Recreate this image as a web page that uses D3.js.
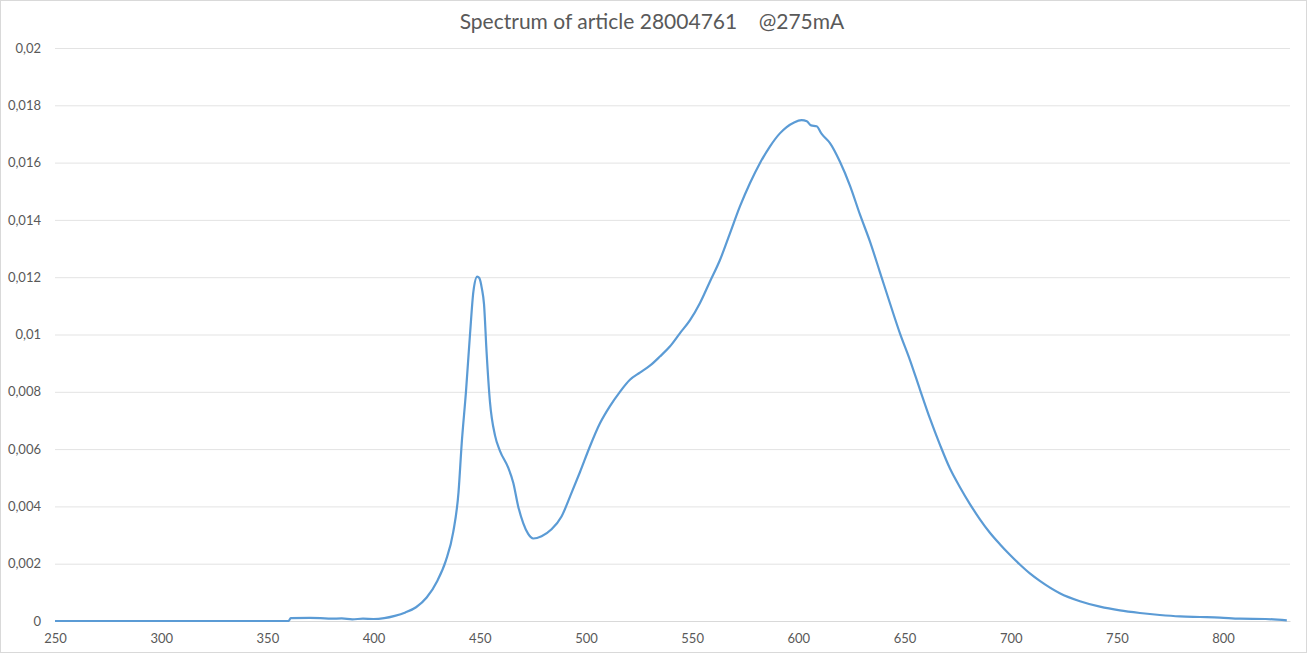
<!DOCTYPE html>
<html>
<head>
<meta charset="utf-8">
<script src="https://cdn.jsdelivr.net/npm/d3@7"></script>
<style>
  body { margin: 0; background: #fff; }
  text { font-family: Lato, "Open Sans", sans-serif; fill: #595959; }
</style>
</head>
<body>
<script>
// wavelengths (nm) and relative intensity
var wavelengths = [250, 300, 360, 361, 370, 375, 380, 385, 390, 395, 400, 405, 410, 415, 420, 425,
  430, 434, 437.5, 440, 441.5, 443.5, 445.4, 447, 448.8, 449.7, 451, 452, 453.2, 454.8, 457.2,
  459.5, 463.4, 465.8, 468.1, 470.5, 472.8, 475.2, 479.1, 483.8, 488.5, 493.2, 497.2, 501.9,
  506.6, 511.3, 516, 520.7, 525.4, 530.1, 534.8, 539.5, 544.3, 549, 553.7, 558.4, 563.1, 567.8,
  572.5, 577.2, 581.9, 586.6, 591.3, 594.5, 598, 601.5, 604, 606, 608.6, 611, 614.9, 619.6,
  624.3, 629, 633.7, 638.4, 643.1, 647.8, 652.6, 657.3, 662, 666.7, 671.4, 676.1, 680.8, 685.5,
  690.2, 694.9, 699.6, 704.3, 709, 713.7, 723.1, 732.6, 742, 751.4, 760.8, 770.2, 779.7, 789.1,
  798.5, 807.9, 820, 830];
var intensity = [0, 0, 0, 0.0001, 0.00011, 0.0001, 0.00008, 0.00009, 0.00006, 0.00008, 0.00007,
  0.0001, 0.00018, 0.0003, 0.00048, 0.00082, 0.0014, 0.0021, 0.0031, 0.0045, 0.0062, 0.008,
  0.010, 0.0115, 0.01202, 0.01198, 0.0116, 0.01106, 0.0094, 0.00765, 0.00647, 0.00594, 0.00535,
  0.00482, 0.0040, 0.00341, 0.00304, 0.00288, 0.00296, 0.0032, 0.00365, 0.00447, 0.0052, 0.0061,
  0.0069, 0.0075, 0.0080, 0.00842, 0.00867, 0.00891, 0.00923, 0.00958, 0.01005, 0.0105, 0.0111,
  0.01185, 0.0126, 0.01353, 0.01447, 0.01528, 0.01598, 0.01656, 0.01702, 0.01724, 0.0174, 0.01748,
  0.01744, 0.0173, 0.01727, 0.017, 0.01668, 0.01603, 0.0152, 0.01419, 0.01325, 0.01218, 0.0111,
  0.01005, 0.0091, 0.00807, 0.00706, 0.00615, 0.00532, 0.00467, 0.00408, 0.00355, 0.00308,
  0.00268, 0.00231, 0.00197, 0.00166, 0.0014, 0.00097, 0.00069, 0.0005, 0.00037, 0.00028, 0.00021,
  0.00016, 0.00014, 0.00012, 0.00008, 0.00007, 0.00002];
var xTicks = [250, 300, 350, 400, 450, 500, 550, 600, 650, 700, 750, 800];
var yTicks = [0, 0.002, 0.004, 0.006, 0.008, 0.01, 0.012, 0.014, 0.016, 0.018, 0.02];
var title = "Spectrum of article 28004761    @275mA";

var width = 1307, height = 653;
var plotL = 55, plotR = 1290, plotT = 48, plotB = 621;

var svg = d3.select("body").append("svg")
    .attr("width", width)
    .attr("height", height);

svg.append("rect")
    .attr("x", 0.5).attr("y", 0.5)
    .attr("width", width - 1).attr("height", height - 1)
    .attr("fill", "#fff")
    .attr("stroke", "#d9d9d9");

var x = d3.scaleLinear().domain([250, 831.5]).range([plotL, plotR]);
var y = d3.scaleLinear().domain([0, 0.02]).range([plotB, plotT]);

function fmt(d) { return (+d.toFixed(3)).toString().replace(".", ","); }

// gridlines + y labels
var yAxis = svg.append("g")
    .attr("transform", "translate(" + plotL + ",0)")
    .call(d3.axisLeft(y).tickValues(yTicks).tickFormat(fmt)
      .tickSize(-(plotR - plotL)).tickPadding(14));
yAxis.select(".domain").remove();
yAxis.selectAll(".tick line").attr("stroke", "#e3e3e3");
yAxis.selectAll(".tick text").attr("font-size", 13).attr("fill", "#595959");

// x axis
var xAxis = svg.append("g")
    .attr("transform", "translate(0," + plotB + ")")
    .call(d3.axisBottom(x).tickValues(xTicks).tickFormat(d3.format("d"))
      .tickSize(0).tickPadding(13));
xAxis.select(".domain").attr("stroke", "#d9d9d9").attr("stroke-width", 1.2);
xAxis.selectAll(".tick text").attr("font-size", 13).attr("fill", "#595959");

var pts = wavelengths.map(function (w, i) { return [w, intensity[i]]; });

var line = d3.line()
    .x(function (d) { return x(d[0]); })
    .y(function (d) { return y(d[1]); })
    .curve(d3.curveMonotoneX);

svg.append("path")
    .datum(pts)
    .attr("d", line)
    .attr("fill", "none")
    .attr("stroke", "#5b9bd5")
    .attr("stroke-width", 2.2)
    .attr("stroke-linejoin", "round");

svg.append("text")
    .attr("x", 652)
    .attr("y", 29)
    .attr("text-anchor", "middle")
    .attr("font-size", 21)
    .style("white-space", "pre")
    .text(title);
</script>
</body>
</html>
